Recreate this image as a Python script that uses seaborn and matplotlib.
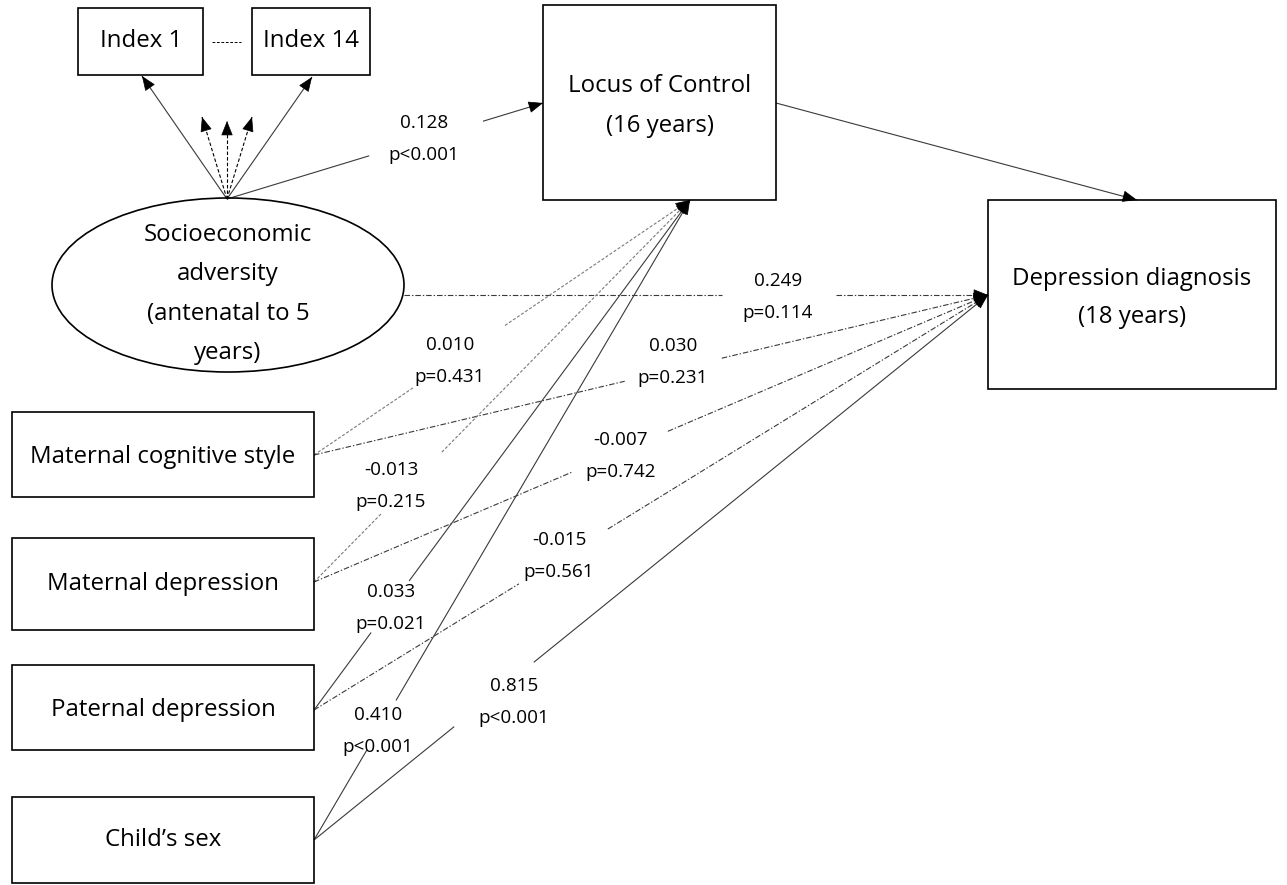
import matplotlib
matplotlib.use("Agg")
import numpy as np
import matplotlib.pyplot as plt
import seaborn as sns
from matplotlib.patches import Rectangle, Ellipse

sns.set_theme(style="white")
plt.rcParams['font.family'] = ['Open Sans', 'DejaVu Sans']
plt.rcParams['lines.scale_dashes'] = False

# ---------------- data ----------------
node_labels = {
    "idx1": "Index 1",
    "idx14": "Index 14",
    "loc": "Locus of Control\n(16 years)",
    "dep": "Depression diagnosis\n(18 years)",
    "ses": "Socioeconomic\nadversity\n(antenatal to 5\nyears)",
    "matcog": "Maternal cognitive style",
    "matdep": "Maternal depression",
    "patdep": "Paternal depression",
    "sex": "Child\u2019s sex",
}
path_from = ["ses", "ses", "matcog", "matcog", "matdep", "matdep", "patdep", "patdep", "sex", "sex"]
path_to   = ["loc", "dep", "loc", "dep", "loc", "dep", "loc", "dep", "loc", "dep"]
path_coef = ["0.128", "0.249", "0.010", "0.030", "-0.013", "-0.007", "0.033", "-0.015", "0.410", "0.815"]
path_p    = ["p<0.001", "p=0.114", "p=0.431", "p=0.231", "p=0.215", "p=0.742", "p=0.021", "p=0.561", "p<0.001", "p<0.001"]

# ---------------- layout (pixel space) ----------------
W, H = 1287, 885
BIG, SMALL = 17.3, 13.6
DARK, GREY = "#3a3a3a", "#7a7a7a"
DASHDOT = (0, (4, 1.4, 1, 1.4))
DOTTED = (0, (2.2, 1.3))

boxes = {  # x0, y0, x1, y1
    "idx1": (78, 8, 203, 75),
    "idx14": (252, 8, 370, 75),
    "loc": (543, 5, 776, 200),
    "dep": (988, 200, 1276, 389),
    "matcog": (12, 412, 314, 497),
    "matdep": (12, 538, 314, 630),
    "patdep": (12, 665, 314, 750),
    "sex": (12, 797, 314, 883),
}
text_pos = {
    "idx1": (141, [41]), "idx14": (311, [41]),
    "loc": (660, [86, 126]), "dep": (1132, [279, 317]),
    "ses": (228, [235, 274, 314, 353]),
    "matcog": (163, [457]), "matdep": (163, [584]),
    "patdep": (163, [710]), "sex": (163, [840]),
}
# per-path: start, end, style, label centre (x, y of first line), gap (t0, t1)
starts = [(227, 199), (404, 295), (314, 455), (314, 455), (314, 582), (314, 582),
          (314, 710), (314, 710), (314, 840), (314, 840)]
ends = {"loc": (690, 200), "dep": (988, 295)}
end_override = {0: (543, 103)}
styles = ["-", DASHDOT, DOTTED, DASHDOT, DOTTED, DASHDOT, "-", DASHDOT, "-", "-"]
colors = [DARK, DARK, GREY, DARK, GREY, DARK, DARK, DARK, DARK, DARK]
label_xy = [(424, 123), (778, 281), (450, 345), (673, 346), (391, 470), (621, 440),
            (391, 592), (559, 540), (378, 715), (514, 686)]
gaps = [(0.45, 0.81), (0.545, 0.74), (0.263, 0.508), (0.461, 0.605), (0.18, 0.34),
        (0.383, 0.525), (0.152, 0.253), (0.304, 0.436), (0.141, 0.218), (0.208, 0.326)]

fig = plt.figure(figsize=(W / 100, H / 100), dpi=100)
ax = fig.add_axes([0, 0, 1, 1])
ax.set_xlim(0, W)
ax.set_ylim(H, 0)
ax.axis("off")


def arrowhead(tip, frm):
    tip = np.asarray(tip, float)
    frm = np.asarray(frm, float)
    u = (tip - frm) / np.hypot(*(tip - frm))
    ax.annotate("", xy=tip, xytext=tip - u * 10,
                arrowprops=dict(arrowstyle="-|>,head_length=0.55,head_width=0.22",
                                color="black", lw=0.5, mutation_scale=17,
                                shrinkA=0, shrinkB=0), zorder=5)


def seg(a, b, ls, col, lw=0.8):
    ax.plot([a[0], b[0]], [a[1], b[1]], linestyle=ls, color=col, lw=lw,
            solid_capstyle="butt", zorder=2)


# boxes and text
for k, (x0, y0, x1, y1) in boxes.items():
    ax.add_patch(Rectangle((x0, y0), x1 - x0, y1 - y0, fill=False, ec="black", lw=1.2, zorder=3))
ax.add_patch(Ellipse((228, 285), 352, 174, fill=False, ec="black", lw=1.2, zorder=3))
for k, (x, ys) in text_pos.items():
    for line, y in zip(node_labels[k].split("\n"), ys):
        ax.text(x, y, line, ha="center", va="center", fontsize=BIG, color="black", zorder=4)

# index indicator arrows
top = (227, 199)
for tip, ls in [((142, 76), "-"), ((312, 77), "-"),
                ((202, 117), (0, (2.5, 1.5))), ((227, 121), (0, (2.5, 1.5))), ((252, 117), (0, (2.5, 1.5)))]:
    seg(top, tip, ls, DARK if ls == "-" else "black")
    arrowhead(tip, top)
seg((212, 42), (241, 42), (0, (2, 1.2)), "black", lw=0.7)

# LoC -> Depression
seg((776, 103), (1137, 200), "-", DARK)
arrowhead((1137, 200), (776, 103))

# labelled paths
for i in range(len(path_coef)):
    a = np.array(starts[i], float)
    b = np.array(end_override.get(i, ends[path_to[i]]), float)
    t0, t1 = gaps[i]
    p0 = a + t0 * (b - a)
    p1 = a + t1 * (b - a)
    seg(a, p0, styles[i], colors[i])
    seg(p1, b, styles[i], colors[i])
    arrowhead(b, a)
    lx, ly = label_xy[i]
    ax.text(lx, ly, path_coef[i], ha="center", va="center", fontsize=SMALL, color="black", zorder=4)
    ax.text(lx, ly + 32, path_p[i], ha="center", va="center", fontsize=SMALL, color="black", zorder=4)

fig.savefig("out.png", dpi=100, facecolor="white")
